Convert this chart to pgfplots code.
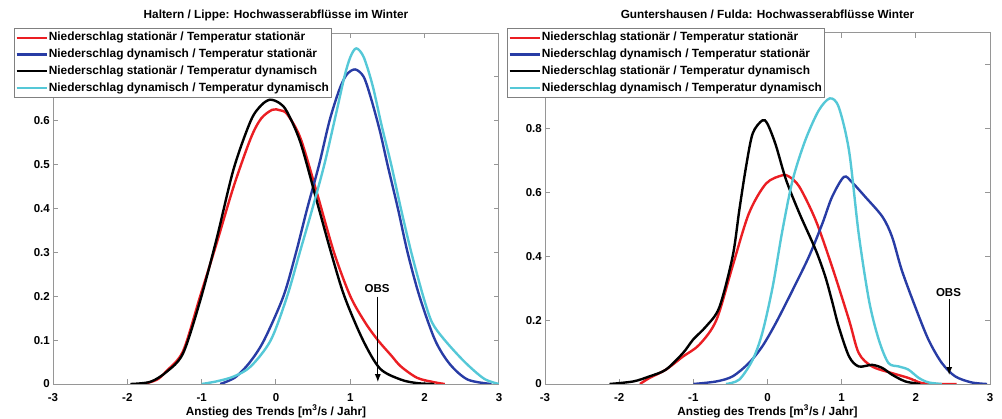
\documentclass[border=0pt]{standalone}
\usepackage{fontspec}
\setmainfont{Liberation Sans}
\usepackage{pgfplots}
\pgfplotsset{compat=1.18}
\usetikzlibrary{arrows.meta}
\definecolor{cR}{RGB}{235,30,35}
\definecolor{cB}{RGB}{40,60,165}
\definecolor{cC}{RGB}{85,200,215}
\definecolor{axgray}{RGB}{150,150,150}
\pgfplotsset{
  myaxis/.style={
    scale only axis, height=351bp, anchor=south west,
    xmin=-3,xmax=3, ymin=0,
    xtick={-3,...,3},
    axis line style={axgray, line width=1bp},
    tick style={axgray, line width=1bp},
    major tick length=5bp,
    tick align=inside,
    /pgf/number format/assume math mode=true,
    /pgf/number format/fixed,
    ticklabel style={font=\fontsize{11.5bp}{14bp}\selectfont\bfseries},
    xticklabel style={anchor=base, yshift=-17.5bp, inner sep=0pt},
    yticklabel style={anchor=east, inner sep=0pt, xshift=-3bp},
    title style={at={(0.5,1)}, anchor=base, yshift=8.5bp, inner sep=0pt, font=\fontsize{11.8bp}{14bp}\selectfont\bfseries},
    xlabel style={at={(0.5,0)}, anchor=base, yshift=-31bp, inner sep=0pt, font=\fontsize{11.8bp}{14bp}\selectfont\bfseries},
    xlabel={Anstieg des Trends [m\textsuperscript{3}/s / Jahr]},
    legend cell align=left,
    legend style={draw=gray, fill=white, line width=0.8bp, anchor=north west,
      font=\fontsize{11.9bp}{14bp}\selectfont\bfseries, inner sep=1bp, row sep=0bp,
      nodes={inner ysep=2.2bp, inner xsep=1bp, text height=9.3bp, text depth=3bp}},
    legend image code/.code={\draw[#1] (0bp,0bp) -- (30bp,0bp);},
    every axis plot/.append style={line width=2.4bp, smooth, tension=0.5},
  }
}
\begin{document}
\begin{tikzpicture}
\begin{axis}[myaxis, at={(53bp,35bp)}, width=446bp, ymax=0.8,
  ytick={0,0.1,...,0.8},
  title={Haltern / Lippe: Hochwasserabflüsse im Winter},
  legend style={at={(-0.0874,1.0142)}}]
\addplot[cR] coordinates {(-1.78,0.0) (-1.6,0.01) (-1.47,0.03) (-1.25,0.075) (-1.02,0.2) (-0.8,0.32) (-0.57,0.45) (-0.34,0.56) (-0.2,0.605) (-0.05,0.625) (0.05,0.624) (0.15,0.615) (0.33,0.56) (0.56,0.43) (0.78,0.30) (1.0,0.2) (1.2,0.14) (1.37,0.1) (1.55,0.065) (1.68,0.04) (1.9,0.014) (2.13,0.004) (2.27,0)};
\addlegendentry{Niederschlag stationär / Temperatur stationär}
\addplot[cB] coordinates {(-0.75,0) (-0.55,0.015) (-0.35,0.05) (-0.16,0.1) (0.1,0.2) (0.27,0.3) (0.42,0.4) (0.58,0.5) (0.72,0.6) (0.85,0.67) (0.95,0.705) (1.065,0.717) (1.18,0.70) (1.28,0.65) (1.4,0.575) (1.5,0.5) (1.64,0.4) (1.77,0.3) (1.93,0.2) (2.14,0.1) (2.34,0.045) (2.58,0.01) (2.9,0)};
\addlegendentry{Niederschlag dynamisch / Temperatur stationär}
\addplot[black] coordinates {(-1.96,0) (-1.69,0.005) (-1.47,0.028) (-1.25,0.07) (-1.02,0.19) (-0.8,0.33) (-0.57,0.49) (-0.34,0.60) (-0.2,0.635) (-0.08,0.648) (0.05,0.64) (0.15,0.62) (0.33,0.55) (0.56,0.41) (0.74,0.3) (0.92,0.2) (1.17,0.1) (1.4,0.035) (1.68,0.01) (1.9,0.002) (2.13,0)};
\addlegendentry{Niederschlag stationär / Temperatur dynamisch}
\addplot[cC] coordinates {(-1.0,0) (-0.8,0.006) (-0.57,0.017) (-0.34,0.04) (-0.07,0.1) (0.15,0.2) (0.32,0.3) (0.49,0.4) (0.65,0.5) (0.8,0.61) (0.92,0.7) (1.0,0.745) (1.08,0.765) (1.18,0.745) (1.3,0.68) (1.42,0.59) (1.55,0.5) (1.68,0.4) (1.82,0.3) (1.98,0.2) (2.1,0.14) (2.27,0.1) (2.54,0.05) (2.8,0.012) (3.0,0)};
\addlegendentry{Niederschlag dynamisch / Temperatur dynamisch}
\node[font=\fontsize{11.5bp}{14bp}\selectfont\bfseries, anchor=base, inner sep=0pt] at (axis cs:1.36,0.208) {OBS};
\draw[-{Latex[length=8bp,width=6bp]}, line width=1.2bp] (axis cs:1.37,0.199) -- (axis cs:1.37,0.004);
\end{axis}
\begin{axis}[myaxis, at={(545bp,35bp)}, width=445bp, ymax=1.1,
  ytick={0,0.2,...,1.0},
  title={Guntershausen / Fulda: Hochwasserabflüsse Winter},
  legend style={at={(-0.0854,1.0142)}}]
\addplot[cR] coordinates {(-1.72,0) (-1.59,0.019) (-1.37,0.045) (-1.14,0.086) (-0.92,0.123) (-0.69,0.2) (-0.47,0.37) (-0.25,0.535) (-0.02,0.628) (0.2,0.654) (0.29,0.65) (0.43,0.618) (0.65,0.513) (0.87,0.368) (1.1,0.2) (1.23,0.097) (1.41,0.055) (1.68,0.034) (1.9,0.019) (2.08,0.003) (2.3,0.0) (2.55,0)};
\addlegendentry{Niederschlag stationär / Temperatur stationär}
\addplot[cB] coordinates {(-1.0,0) (-0.69,0.008) (-0.47,0.024) (-0.25,0.066) (-0.07,0.118) (0.11,0.19) (0.34,0.295) (0.56,0.4) (0.74,0.503) (0.87,0.586) (1.03,0.649) (1.14,0.632) (1.32,0.586) (1.55,0.524) (1.68,0.461) (1.81,0.357) (1.99,0.243) (2.17,0.139) (2.35,0.066) (2.53,0.024) (2.75,0.005) (2.96,0)};
\addlegendentry{Niederschlag dynamisch / Temperatur stationär}
\addplot[black] coordinates {(-2.13,0) (-1.81,0.008) (-1.59,0.024) (-1.37,0.045) (-1.14,0.097) (-1.0,0.14) (-0.83,0.18) (-0.65,0.24) (-0.47,0.40) (-0.38,0.545) (-0.29,0.68) (-0.2,0.785) (-0.07,0.826) (0.0,0.815) (0.11,0.75) (0.25,0.64) (0.43,0.535) (0.65,0.42) (0.78,0.336) (0.87,0.26) (0.96,0.18) (1.1,0.086) (1.23,0.055) (1.41,0.06) (1.55,0.05) (1.68,0.029) (1.86,0.008) (2.06,0)};
\addlegendentry{Niederschlag stationär / Temperatur dynamisch}
\addplot[cC] coordinates {(-0.56,0) (-0.38,0.014) (-0.2,0.076) (-0.07,0.16) (0.07,0.305) (0.2,0.48) (0.34,0.64) (0.51,0.764) (0.69,0.857) (0.84,0.895) (0.96,0.868) (1.1,0.73) (1.23,0.47) (1.37,0.26) (1.5,0.139) (1.63,0.066) (1.77,0.055) (1.9,0.045) (2.04,0.019) (2.17,0.005) (2.35,0)};
\addlegendentry{Niederschlag dynamisch / Temperatur dynamisch}
\node[font=\fontsize{11.5bp}{14bp}\selectfont\bfseries, anchor=base, inner sep=0pt] at (axis cs:2.44,0.275) {OBS};
\draw[-{Latex[length=8bp,width=6bp]}, line width=1.2bp] (axis cs:2.45,0.266) -- (axis cs:2.45,0.028);
\end{axis}
\pgfresetboundingbox
\path[use as bounding box] (0,0) rectangle (1002bp,419bp);
\end{tikzpicture}
\end{document}
